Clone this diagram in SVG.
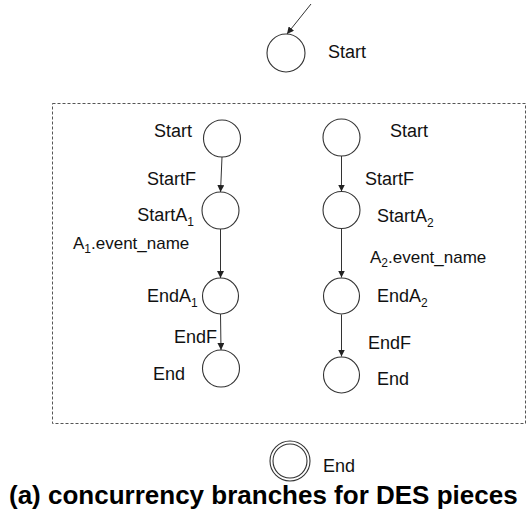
<svg xmlns="http://www.w3.org/2000/svg" width="528" height="511" viewBox="0 0 528 511">
<style>
  .st { fill: #fff; stroke: #333; stroke-width: 1.1; }
  .lbl { font-family: "Liberation Sans", Arial, sans-serif; font-size: 18px; fill: #111; }
  .ev { font-size: 17px; }
  .sub { font-size: 12px; }
  .edge { stroke: #333; stroke-width: 1; fill: none; marker-end: url(#ah); }
  .cap { font-family: "Liberation Sans", Arial, sans-serif; font-size: 26px; font-weight: bold; fill: #000; }
</style>
<defs>
  <marker id="ah" viewBox="0 0 10 10" refX="10" refY="5" markerWidth="7" markerHeight="7" markerUnits="userSpaceOnUse" orient="auto">
    <path d="M0,0 L10,5 L0,10 z" fill="#222"/>
  </marker>
</defs>
<rect x="52.5" y="103.5" width="473" height="320" fill="none" stroke="#555" stroke-width="1" stroke-dasharray="3,2"/>
<g id="edges">
  <line class="edge" x1="311" y1="4" x2="287" y2="34"/>
  <line class="edge" x1="222" y1="157" x2="220.5" y2="192"/>
  <line class="edge" x1="220.5" y1="229" x2="220.5" y2="278"/>
  <line class="edge" x1="220.5" y1="314" x2="221" y2="350"/>
  <line class="edge" x1="341.5" y1="156" x2="341.5" y2="191.5"/>
  <line class="edge" x1="341.5" y1="228.5" x2="341.5" y2="277.5"/>
  <line class="edge" x1="341.5" y1="314.5" x2="341.5" y2="356.5"/>
</g>
<g id="top-start">
  <circle class="st" cx="286" cy="53" r="19"/>
  <text class="lbl" x="328" y="58">Start</text>
</g>
<g id="l-start">
  <circle class="st" cx="222" cy="138.5" r="18.5"/>
  <text class="lbl" x="192" y="137" text-anchor="end">Start</text>
</g>
<text class="lbl" x="196" y="185" text-anchor="end">StartF</text>
<g id="l-starta1">
  <circle class="st" cx="220.5" cy="210.5" r="18.5"/>
  <text class="lbl" x="194" y="221" text-anchor="end">StartA<tspan class="sub" dy="5">1</tspan></text>
</g>
<text class="lbl ev" x="73" y="249">A<tspan class="sub" dy="4">1</tspan><tspan dy="-4">.event_name</tspan></text>
<g id="l-enda1">
  <circle class="st" cx="220.5" cy="296" r="18"/>
  <text class="lbl" x="147" y="302">EndA<tspan class="sub" dy="5">1</tspan></text>
</g>
<text class="lbl" x="174" y="343">EndF</text>
<g id="l-end">
  <circle class="st" cx="221" cy="368.5" r="18.5"/>
  <text class="lbl" x="153" y="380">End</text>
</g>
<g id="r-start">
  <circle class="st" cx="341.5" cy="137.5" r="18.5"/>
  <text class="lbl" x="390" y="137">Start</text>
</g>
<text class="lbl" x="365" y="185">StartF</text>
<g id="r-starta2">
  <circle class="st" cx="341.5" cy="210" r="18.5"/>
  <text class="lbl" x="377" y="222">StartA<tspan class="sub" dy="5">2</tspan></text>
</g>
<text class="lbl ev" x="370" y="263">A<tspan class="sub" dy="4">2</tspan><tspan dy="-4">.event_name</tspan></text>
<g id="r-enda2">
  <circle class="st" cx="341.5" cy="296" r="18"/>
  <text class="lbl" x="377" y="302">EndA<tspan class="sub" dy="5">2</tspan></text>
</g>
<text class="lbl" x="368" y="349">EndF</text>
<g id="r-end">
  <circle class="st" cx="341.5" cy="375" r="18"/>
  <text class="lbl" x="377" y="385">End</text>
</g>
<g id="final-end">
  <circle class="st" cx="290" cy="461" r="20"/>
  <circle cx="290" cy="461" r="17" fill="none" stroke="#333" stroke-width="1.1"/>
  <text class="lbl" x="323" y="472">End</text>
</g>
<text class="cap" x="9" y="504">(a) concurrency branches for DES pieces</text>
</svg>
